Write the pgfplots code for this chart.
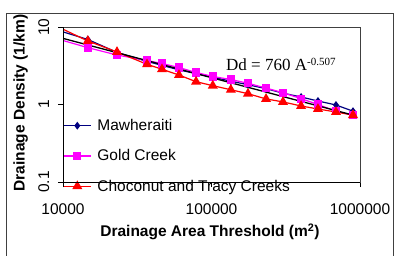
\documentclass[border=0pt]{standalone}
\usepackage{pgfplots}
\pgfplotsset{compat=1.18}
\usepackage{fontspec}
\setmainfont{Liberation Sans}
\newfontfamily\timesfont{Liberation Serif}
\definecolor{navy}{RGB}{0,0,128}
\definecolor{pinkm}{RGB}{255,0,255}
\definecolor{redr}{RGB}{255,0,0}
\definecolor{framegray}{RGB}{64,64,64}
\begin{document}
\begin{tikzpicture}[x=1pt,y=1pt]
\begin{axis}[
  at={(0pt,0pt)}, anchor=south west,
  scale only axis, width=297pt, height=155pt,
  xmode=log, ymode=log,
  xmin=1e4, xmax=1e6, ymin=0.1, ymax=10,
  xtick={1e4,1e5,1e6}, xticklabels={10000,100000,1000000},
  ytick={0.1,1,10}, yticklabels={0.1,1,10},
  xminorticks=false, yminorticks=false,
  tick align=outside, tick pos=left, major tick length=5pt,
  tick style={black, line width=0.8pt},
  axis line style={draw=framegray, line width=0.8pt},
  /pgf/number format/assume math mode=true,
  ticklabel style={font=\fontsize{15.5}{18}\selectfont},
  xticklabel style={anchor=north, inner sep=0pt},
  xticklabel shift=16pt,
  yticklabel style={rotate=90, anchor=base, inner sep=0pt},
  yticklabel shift=9pt,
  xlabel={\textbf{Drainage Area Threshold (m\textsuperscript{2})}},
  ylabel={\textbf{Drainage Density (1/km)}},
  label style={font=\fontsize{15.5}{18}\selectfont},
  xlabel style={at={(axis description cs:0.4949,-0.3548)}, anchor=base, inner sep=0pt},
  ylabel style={at={(axis description cs:-0.1296,0.5097)}, anchor=base, inner sep=0pt},
  legend style={at={(axis description cs:0,0.168)}, anchor=west, draw=none, fill=none,
    inner sep=0pt, row sep=17.5pt, column sep=6pt, font=\fontsize{15.5}{18}\selectfont,
    nodes={inner sep=0pt}},
  legend cell align=left,
  legend image code/.code={\draw[mark repeat=2,mark phase=2,#1] plot coordinates {(0pt,0pt) (13.5pt,0pt) (27pt,0pt)};},
  clip=true,
]
% off-range first segments (clipped at the axis edge)
\addplot[navy, line width=1.2pt, forget plot] coordinates {(9000,9.2) (14700,6.9)};
\addplot[pinkm, line width=1.2pt, forget plot] coordinates {(9000,7.1) (14700,5.41)};
\addplot[redr, line width=1.2pt, forget plot] coordinates {(9000,10.3) (14700,6.6)};

\addplot[navy, line width=1.2pt, mark=diamond*, mark size=3pt, mark options={fill=navy, draw=navy}] coordinates {
(14700,6.9) (23100,4.7) (36800,3.6) (46400,3.2) (60400,2.8) (78700,2.5) (102000,2.25)
(135000,2.0) (176000,1.8) (233000,1.6) (303000,1.40) (401000,1.25) (521000,1.11)
(689000,0.986) (897000,0.82)};
\addlegendentry{Mawheraiti}
\addplot[pinkm, line width=1.2pt, mark=square*, mark size=3.5pt, mark options={fill=pinkm, draw=pinkm}] coordinates {
(14700,5.41) (23100,4.35) (36800,3.70) (46400,3.38) (60400,3.00) (78700,2.59) (102000,2.30)
(135000,2.10) (176000,1.88) (233000,1.63) (303000,1.42) (401000,1.19) (521000,1.00)
(689000,0.82) (897000,0.73)};
\addlegendentry{Gold Creek}
\addplot[redr, line width=1.2pt, mark=triangle*, mark size=4.6pt, mark options={fill=redr, draw=redr}] coordinates {
(14700,6.6) (23100,4.76) (36800,3.30) (46400,2.85) (60400,2.40) (78700,1.97) (102000,1.75)
(135000,1.55) (176000,1.38) (233000,1.18) (303000,1.08) (401000,0.957) (521000,0.875)
(689000,0.80) (897000,0.73)};
\addlegendentry{Choconut and Tracy Creeks}
% power fit Dd = 760 A^-0.507
\addplot[black, line width=1.3pt, forget plot] coordinates {(10000,7.13) (897000,0.73)};
\end{axis}
% black left and bottom axis lines
\draw[black, line width=0.8pt] (0pt,155pt) -- (0pt,0pt) -- (297pt,0pt);
\node[anchor=base west, inner sep=0pt, font=\timesfont\fontsize{17}{19}\selectfont] at (163pt,112pt)
  {Dd = 760 A\raisebox{5pt}{\fontsize{11}{12}\selectfont -0.507}};
% outer chart frame
\draw[framegray, line width=0.9pt] (-57pt,-75pt) -- (-57pt,169pt) -- (330pt,169pt) -- (330pt,-75pt);
\pgfresetboundingbox
\path[use as bounding box] (-63pt,-73pt) rectangle (331pt,182pt);
\end{tikzpicture}
\end{document}
